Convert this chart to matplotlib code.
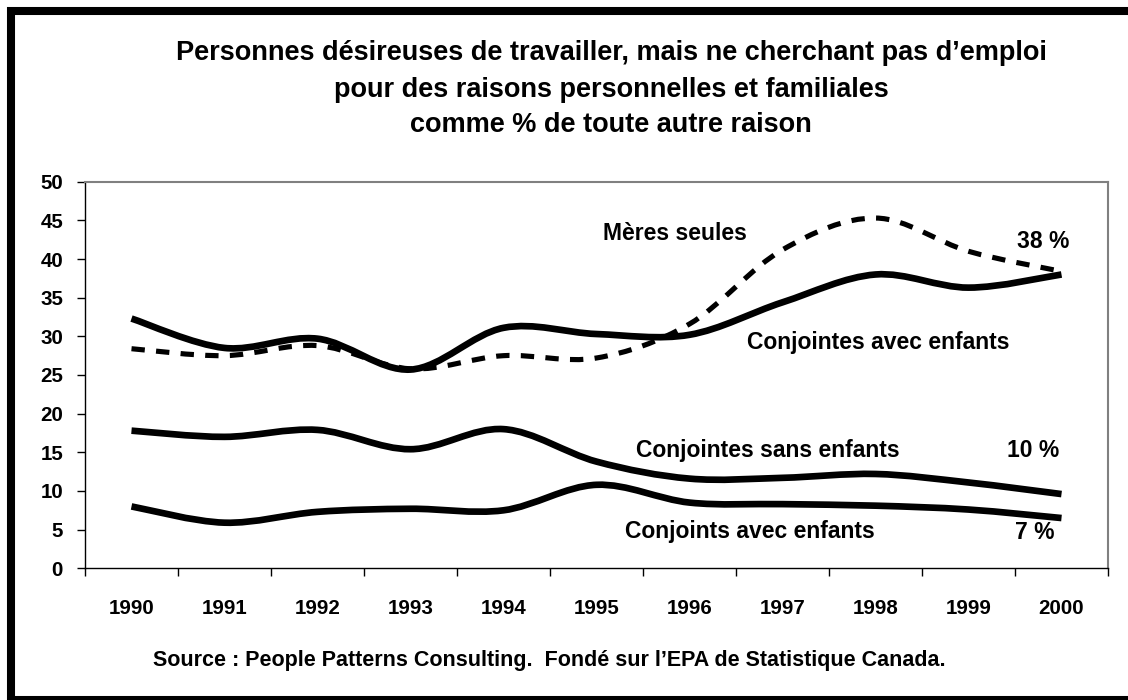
import numpy as np
import matplotlib
matplotlib.use('Agg')
import matplotlib.pyplot as plt
from matplotlib.path import Path
from matplotlib.patches import PathPatch, Rectangle

plt.rcParams['font.family'] = ['Liberation Sans', 'DejaVu Sans']
plt.rcParams['font.weight'] = 'bold'

years = ['1990', '1991', '1992', '1993', '1994', '1995',
         '1996', '1997', '1998', '1999', '2000']
meres_seules = [28.4, 27.5, 28.8, 25.8, 27.5, 27.2, 31.6, 41.2, 45.3, 41.0, 38.4]
conjointes_avec = [32.3, 28.5, 29.7, 25.7, 31.1, 30.3, 30.2, 34.4, 38.0, 36.3, 38.0]
conjointes_sans = [17.8, 17.0, 17.9, 15.4, 18.0, 13.8, 11.6, 11.7, 12.2, 11.1, 9.6]
conjoints_avec = [8.0, 5.9, 7.3, 7.7, 7.5, 10.8, 8.5, 8.3, 8.1, 7.6, 6.5]

title_lines = ['Personnes désireuses de travailler, mais ne cherchant pas d’emploi',
               'pour des raisons personnelles et familiales',
               'comme % de toute autre raison']
source = 'Source : People Patterns Consulting.  Fondé sur l’EPA de Statistique Canada.'


def smoothPath(ys):
    # excel-like smoothed line: cubic bezier through every point
    pts = np.column_stack([np.arange(len(ys)), ys]).astype(float)
    ext = np.vstack([pts[0], pts, pts[-1]])
    verts = [pts[0]]
    codes = [Path.MOVETO]
    for i in range(len(pts) - 1):
        p0, p1, p2, p3 = ext[i], ext[i + 1], ext[i + 2], ext[i + 3]
        verts += [p1 + (p2 - p0) / 6, p2 - (p3 - p1) / 6, p2]
        codes += [Path.CURVE4] * 3
    return Path(verts, codes)


W, H = 1128, 700
fig = plt.figure(figsize=(W / 100, H / 100), dpi=100)
fig.patch.set_facecolor('white')
ax = fig.add_axes([85 / W, 1 - 568.3 / H, (1108 - 85) / W, (568.3 - 181.7) / H])

ax.add_patch(PathPatch(smoothPath(meres_seules), fill=False, lw=3.7,
                       ls=(0, (2.6, 2.2)), color='black', capstyle='butt', zorder=2))
for series in [conjointes_avec, conjointes_sans, conjoints_avec]:
    ax.add_patch(PathPatch(smoothPath(series), fill=False, lw=4.8,
                           color='black', capstyle='butt', joinstyle='round', zorder=3))

ax.set_xlim(-0.5, 10.5)
ax.set_ylim(0, 50)
ax.set_xticks(np.arange(-0.5, 11, 1))
ax.set_xticklabels([])
ax.set_xticks(range(len(years)), minor=True)
ax.set_xticklabels(years, minor=True, fontsize=14.8, fontweight='bold')
ax.tick_params(axis='x', which='minor', length=0, pad=22)
ax.tick_params(axis='x', which='major', length=5.8, width=1, direction='out')
ax.set_yticks(range(0, 51, 5))
ax.set_yticklabels([str(v) for v in range(0, 51, 5)], fontsize=14.8, fontweight='bold')
ax.tick_params(axis='y', length=5.8, width=1, direction='out', pad=10)

for side in ['left', 'bottom']:
    ax.spines[side].set_color('black')
    ax.spines[side].set_linewidth(1.0)
for side in ['top', 'right']:
    ax.spines[side].set_color('#808080')
    ax.spines[side].set_linewidth(1.5)

lab = dict(fontsize=16.5, fontweight='bold', ha='center', va='baseline')
ax.text(5.84, 42.5, 'Mères seules', **lab)
ax.text(9.80, 41.4, '38 %', **lab)
ax.text(8.03, 28.4, 'Conjointes avec enfants', **lab)
ax.text(6.84, 14.44, 'Conjointes sans enfants', **lab)
ax.text(9.70, 14.44, '10 %', **lab)
ax.text(6.65, 3.88, 'Conjoints avec enfants', **lab)
ax.text(9.71, 3.8, '7 %', **lab)

for line, base in zip(title_lines, [60.5, 97.0, 132.5]):
    fig.text(611 / W, 1 - base / H, line, fontsize=19.5, fontweight='bold',
             ha='center', va='baseline')
fig.text(549.7 / W, 1 - 666 / H, source, fontsize=15.5, fontweight='bold',
         ha='center', va='baseline')

fig.patches.append(Rectangle((11 / W, 0), (1135 - 11) / W, 689 / H, fill=False,
                             lw=5.8, edgecolor='black', transform=fig.transFigure))

fig.savefig('out.png', dpi=100, facecolor='white')
